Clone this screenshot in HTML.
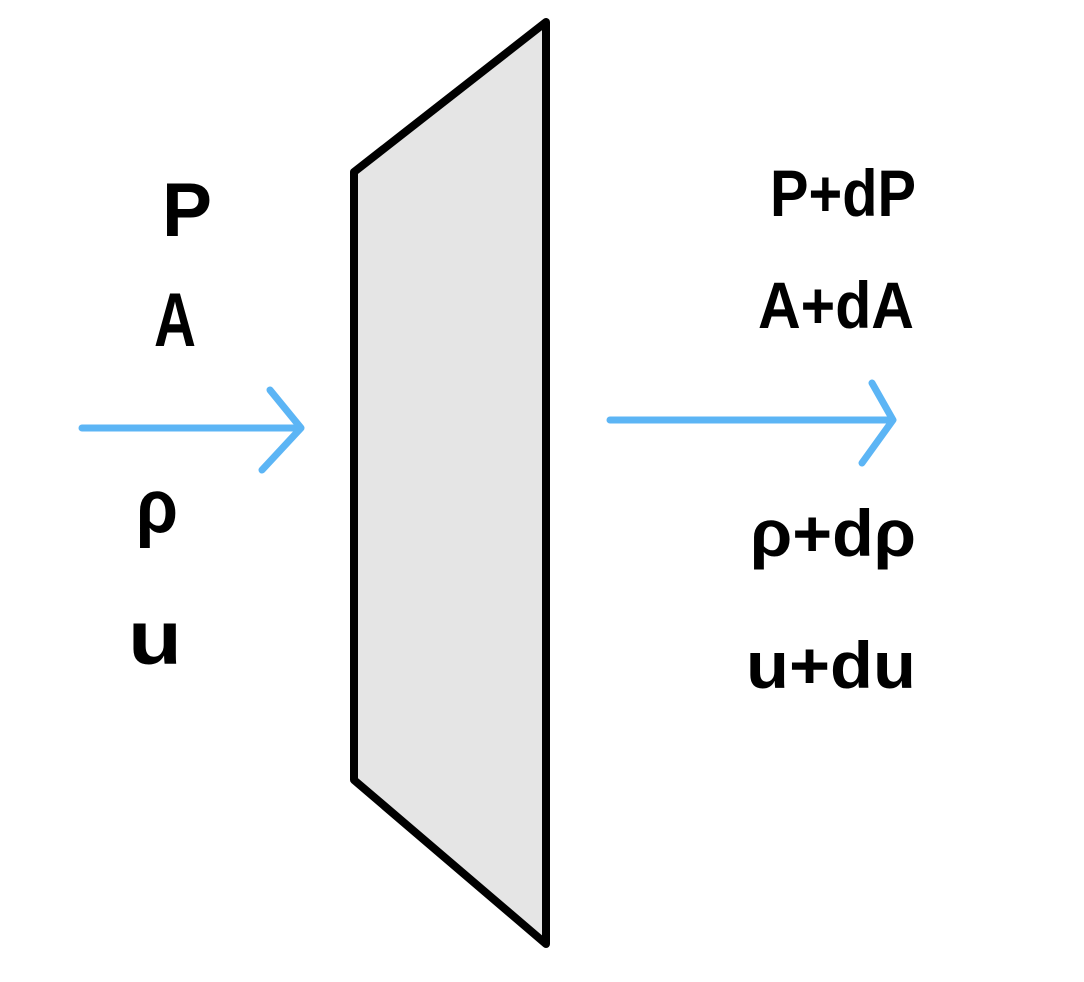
<!DOCTYPE html>
<html><head><meta charset="utf-8"><style>
html,body{margin:0;padding:0;background:#fff;}
svg{display:block;}
text{font-family:"Liberation Sans","DejaVu Sans",sans-serif;font-weight:bold;fill:#000;}
</style></head><body>
<svg width="1084" height="982" viewBox="0 0 1084 982">
  <polygon points="354,172 546,22 546,944 354,780" fill="#e5e5e5" stroke="#000" stroke-width="8" stroke-linejoin="round"/>
  <g stroke="#5cb5f5" stroke-width="7" fill="none" stroke-linecap="round" stroke-linejoin="round">
    <line x1="82" y1="428" x2="300" y2="428"/>
    <polyline points="270,390 301,428 262,470"/>
  </g>
  <g stroke="#5cb5f5" stroke-width="7" fill="none" stroke-linecap="round" stroke-linejoin="round">
    <line x1="610" y1="420" x2="892" y2="420"/>
    <polyline points="872,383 893,420 862,463"/>
  </g>
  <text x="162" y="236" font-size="76" textLength="50" lengthAdjust="spacingAndGlyphs">P</text>
  <text x="154" y="346" font-size="76" textLength="42" lengthAdjust="spacingAndGlyphs">A</text>
  <text x="136" y="532" font-size="76" textLength="42" lengthAdjust="spacingAndGlyphs">ρ</text>
  <text x="128" y="664" font-size="76" textLength="54" lengthAdjust="spacingAndGlyphs">u</text>
  <text x="770" y="216" font-size="66" textLength="146" lengthAdjust="spacingAndGlyphs">P+dP</text>
  <text x="758" y="328" font-size="66" textLength="156" lengthAdjust="spacingAndGlyphs">A+dA</text>
  <text x="750" y="556" font-size="66" textLength="166" lengthAdjust="spacingAndGlyphs">ρ+dρ</text>
  <text x="746" y="688" font-size="66" textLength="170" lengthAdjust="spacingAndGlyphs">u+du</text>
</svg>
</body></html>
